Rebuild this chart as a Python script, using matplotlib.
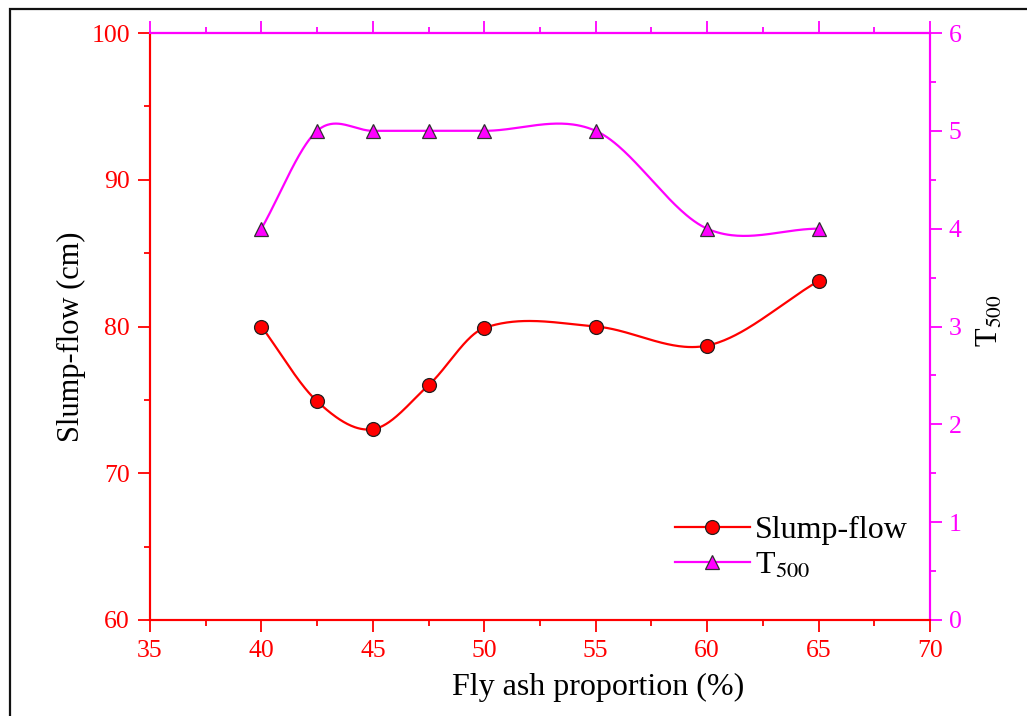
import numpy as np
import matplotlib
matplotlib.use('Agg')
import matplotlib.pyplot as plt
from matplotlib.lines import Line2D
from matplotlib.patches import Rectangle
from matplotlib.ticker import MultipleLocator

plt.rcParams['font.family'] = ['Liberation Serif', 'DejaVu Serif']
plt.rcParams['mathtext.fontset'] = 'stix'

# measured values
fly_ash = [40, 42.5, 45, 47.5, 50, 55, 60, 65]
slump_flow = [80.0, 74.9, 73.0, 76.0, 79.9, 80.0, 78.7, 83.1]
t500 = [4, 5, 5, 5, 5, 5, 4, 4]

RED = '#ff0000'
MAG = '#ff00ff'


def smooth_line(x, y, n=60):
    # cardinal (Catmull-Rom style) Hermite curve through the points
    x = np.asarray(x, float)
    y = np.asarray(y, float)
    k = len(x)
    m = np.empty(k)
    m[0] = (y[1] - y[0]) / (x[1] - x[0])
    m[-1] = (y[-1] - y[-2]) / (x[-1] - x[-2])
    m[1:-1] = (y[2:] - y[:-2]) / (x[2:] - x[:-2])
    xs_all, ys_all = [], []
    for i in range(k - 1):
        h = x[i + 1] - x[i]
        t = np.linspace(0, 1, n)
        h00 = 2 * t ** 3 - 3 * t ** 2 + 1
        h10 = t ** 3 - 2 * t ** 2 + t
        h01 = -2 * t ** 3 + 3 * t ** 2
        h11 = t ** 3 - t ** 2
        xs_all.append(x[i] + t * h)
        ys_all.append(h00 * y[i] + h10 * h * m[i] + h01 * y[i + 1] + h11 * h * m[i + 1])
    return np.concatenate(xs_all), np.concatenate(ys_all)


fig = plt.figure(figsize=(10.27, 7.16), dpi=100)
ax = fig.add_axes([150 / 1027, 96 / 716, 780 / 1027, 587 / 716])
ax2 = ax.twinx()

xs, ys = smooth_line(fly_ash, slump_flow)
ax.plot(xs, ys, color=RED, lw=1.6, zorder=2)
ax.plot(fly_ash, slump_flow, 'o', ms=10, mfc=RED, mec='#202020', mew=0.9, zorder=3)

xs, ys = smooth_line(fly_ash, t500)
ax2.plot(xs, ys, color=MAG, lw=1.6, zorder=2)
ax2.plot(fly_ash, t500, '^', ms=10.5, mfc=MAG, mec='#303030', mew=0.9, zorder=3)

ax.set_xlim(35, 70)
ax.set_ylim(60, 100)
ax2.set_ylim(0, 6)
ax.xaxis.set_major_locator(MultipleLocator(5))
ax.xaxis.set_minor_locator(MultipleLocator(2.5))
ax.yaxis.set_major_locator(MultipleLocator(10))
ax.yaxis.set_minor_locator(MultipleLocator(5))
ax2.yaxis.set_major_locator(MultipleLocator(1))
ax2.yaxis.set_minor_locator(MultipleLocator(0.5))

for a in (ax, ax2):
    a.spines['left'].set_color(RED)
    a.spines['bottom'].set_color(RED)
    a.spines['top'].set_color(MAG)
    a.spines['right'].set_color(MAG)
    for s in a.spines.values():
        s.set_linewidth(1.5)

ax.tick_params(axis='both', which='major', direction='out', length=8.5, width=1.3,
               colors=RED, labelsize=18.5)
ax.tick_params(axis='both', which='minor', direction='out', length=4, width=1.3,
               colors=RED)
ax.tick_params(axis='y', which='major', pad=6)
ax.tick_params(axis='x', which='major', pad=6)
ax2.tick_params(axis='y', which='major', direction='out', length=8.5, width=1.3,
                colors=MAG, labelsize=18.5, pad=5)
ax2.tick_params(axis='y', which='minor', direction='out', length=4, width=1.3,
                colors=MAG)

top = ax.secondary_xaxis('top')
top.xaxis.set_major_locator(MultipleLocator(5))
top.xaxis.set_minor_locator(MultipleLocator(2.5))
top.tick_params(which='major', direction='out', length=8.5, width=1.3, colors=MAG,
                labeltop=False)
top.tick_params(which='minor', direction='out', length=4, width=1.3, colors=MAG)
top.spines['top'].set_color(MAG)
top.spines['top'].set_linewidth(1.5)

ax.set_xlabel('Fly ash proportion (%)', fontsize=23, color='black', labelpad=8)
ax.xaxis.label.set_x(0.574)
ax.set_ylabel('Slump-flow (cm)', fontsize=22, color='black', labelpad=4)
ax.yaxis.label.set_y(0.482)
ax2.set_ylabel(r'T$_{500}$', fontsize=22, color='black', labelpad=10)
ax2.yaxis.label.set_y(0.51)

handles = [
    Line2D([], [], color=RED, lw=1.6, marker='o', ms=10, mfc=RED, mec='#202020', mew=0.9),
    Line2D([], [], color=MAG, lw=1.6, marker='^', ms=10.5, mfc=MAG, mec='#303030', mew=0.9),
]
ax.legend(handles, ['Slump-flow', r'T$_{500}$'], loc='upper left',
          bbox_to_anchor=(0.673, 0.178), frameon=False, fontsize=23,
          handlelength=2.35, handletextpad=0.15, labelspacing=0.2,
          borderpad=0, borderaxespad=0)

fig.patches.append(Rectangle((10 / 1027, -0.05), 1.1, 1.05 - 9 / 716,
                             transform=fig.transFigure, fill=False,
                             lw=1.6, ec='#111111'))

fig.savefig('out.png', dpi=100)
